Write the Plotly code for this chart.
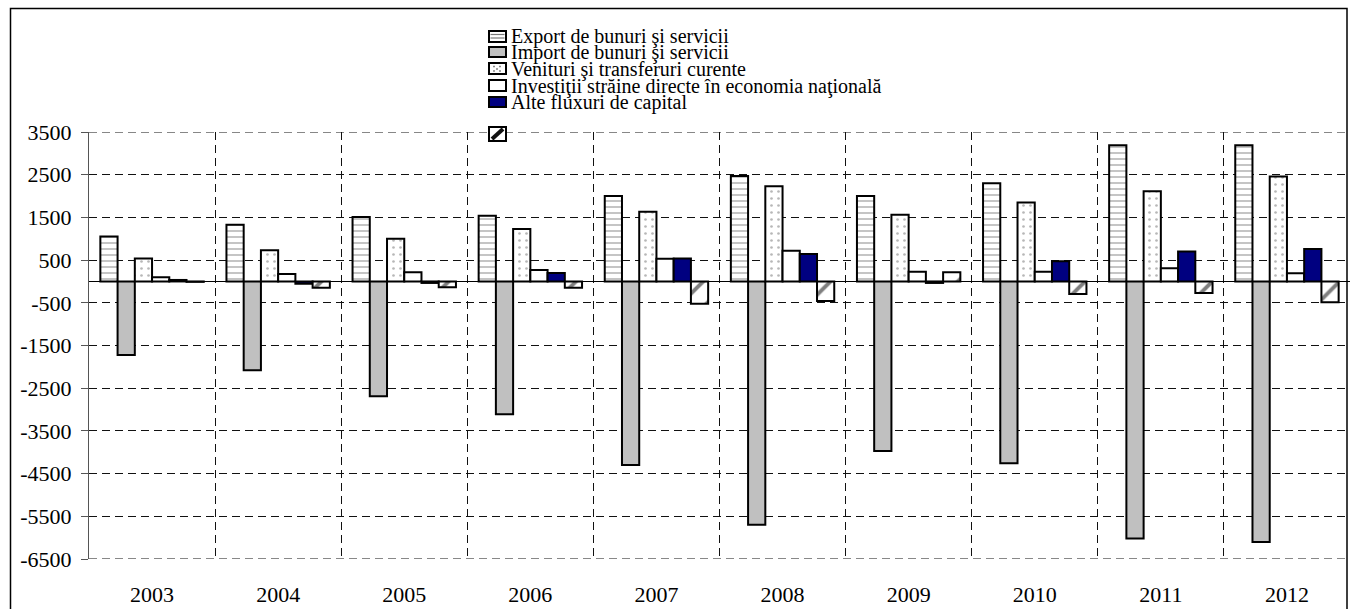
import plotly.graph_objects as go

# ---------------- data ----------------
years = ["2003", "2004", "2005", "2006", "2007", "2008", "2009", "2010", "2011", "2012"]
export_vals = [1050, 1330, 1510, 1540, 2000, 2470, 2000, 2300, 3190, 3190]
import_vals = [-1720, -2080, -2690, -3110, -4300, -5700, -3970, -4260, -6020, -6100]
venituri_vals = [535, 730, 1000, 1230, 1635, 2230, 1560, 1850, 2110, 2460]
investitii_vals = [100, 175, 215, 270, 530, 720, 230, 230, 310, 190]
alte_vals = [35, -55, -35, 200, 540, 645, -35, 475, 700, 760]
altele_vals = [-10, -150, -135, -150, -520, -460, 215, -295, -270, -490]

series_names = [
    "Export de bunuri şi servicii",
    "Import de bunuri şi servicii",
    "Venituri şi transferuri curente",
    "Investiţii străine directe în economia naţională",
    "Alte fluxuri de capital",
    "",
]

y_tickvals = [3500, 2500, 1500, 500, -500, -1500, -2500, -3500, -4500, -5500, -6500]
y_ticktext = ["3500", "2500", "1500", "500", "-500", "-1500", "-2500", "-3500", "-4500", "-5500", "-6500"]
y_min, y_max = -6500, 3500

FONT = "Liberation Serif, Times New Roman, serif"
OUT = dict(color="black", width=2)
GRID_DASH = "8px,5px"

# ---------------- layout geometry ----------------
W, H = 1350, 609
ML, MR, MT, MB = 89, 0, 132, 50
PW = W - ML - MR
PH = H - MT - MB


def px2x(px):
    return (px - ML) / PW


def py2y(py):
    return (H - MB - py) / PH


fig = go.Figure()

styles = [
    dict(color="white", line=OUT,
         pattern=dict(shape="-", fgcolor="#7f7f7f", bgcolor="white", size=6, solidity=0.3)),
    dict(color="#C0C0C0", line=OUT),
    dict(color="white", line=OUT,
         pattern=dict(shape=".", fgcolor="#6f6f6f", bgcolor="white", size=7, solidity=0.12)),
    dict(color="white", line=OUT),
    dict(color="#000080", line=OUT),
    dict(color="white", line=OUT,
         pattern=dict(shape="/", fgcolor="#000000", bgcolor="white", size=18, solidity=0.22)),
]
values = [export_vals, import_vals, venituri_vals, investitii_vals, alte_vals, altele_vals]

for name, vals, st in zip(series_names, values, styles):
    fig.add_trace(go.Bar(x=years, y=vals, name=name if name else "Altele",
                         marker=st, showlegend=False))

# ---------------- manual legend ----------------
shapes = []
annotations = []

# edge gridlines (plotly hides gridlines lying on the plot border)
for yv in (y_max, y_min):
    shapes.append(dict(type="line", xref="paper", yref="y", x0=0, x1=1, y0=yv, y1=yv,
                       line=dict(color="#111", width=1, dash=GRID_DASH), layer="below"))

rows = [(31, 42), (47, 57), (63, 74), (80, 91), (97, 107), (127, 141)]
sx0, sx1 = 489, 506
for i, (name, (t, b)) in enumerate(zip(series_names, rows)):
    fill = ["white", "#C0C0C0", "white", "white", "#000080", "white"][i]
    shapes.append(dict(type="rect", xref="paper", yref="paper",
                       x0=px2x(sx0), x1=px2x(sx1), y0=py2y(b), y1=py2y(t),
                       fillcolor=fill, line=dict(color="black", width=2), layer="above"))
    if i == 0:
        for yy in [t + 3.5, t + 7]:
            shapes.append(dict(type="line", xref="paper", yref="paper",
                               x0=px2x(sx0 + 1.5), x1=px2x(sx1 - 1.5), y0=py2y(yy), y1=py2y(yy),
                               line=dict(color="#777", width=1.2), layer="above"))
    if i == 2:
        for (dx, dy) in [(5, 3.5), (11, 3.5), (8, 6), (5, 8), (11, 8)]:
            shapes.append(dict(type="rect", xref="paper", yref="paper",
                               x0=px2x(sx0 + dx - 0.7), x1=px2x(sx0 + dx + 0.7),
                               y0=py2y(t + dy + 0.7), y1=py2y(t + dy - 0.7),
                               fillcolor="#555", line=dict(width=0), layer="above"))
    if i == 5:
        shapes.append(dict(type="line", xref="paper", yref="paper",
                           x0=px2x(sx0 + 3), x1=px2x(sx1 - 3), y0=py2y(b - 2), y1=py2y(t + 2),
                           line=dict(color="#111", width=4), layer="above"))
    if name:
        annotations.append(dict(xref="paper", yref="paper", x=px2x(sx1 + 3), y=py2y((t + b) / 2 + 0.5),
                                text=name, showarrow=False, xanchor="left", yanchor="middle",
                                font=dict(family=FONT, size=20, color="black")))

# outer frame
shapes.append(dict(type="rect", xref="paper", yref="paper",
                   x0=px2x(10.5), x1=px2x(1347), y0=py2y(640), y1=py2y(8.5),
                   line=dict(color="black", width=1.5), fillcolor="rgba(0,0,0,0)", layer="above"))

fig.update_layout(
    width=W, height=H,
    margin=dict(l=ML, r=MR, t=MT, b=MB),
    paper_bgcolor="white", plot_bgcolor="white",
    barmode="group", bargap=0.18, bargroupgap=0,
    font=dict(family=FONT, size=22, color="black"),
    shapes=shapes, annotations=annotations,
    xaxis=dict(type="category", tickson="boundaries", showgrid=True,
               gridcolor="#111", gridwidth=1, griddash=GRID_DASH,
               ticks="", showline=False, zeroline=False,
               ticklabelstandoff=20, tickfont=dict(family=FONT, size=22, color="black")),
    yaxis=dict(range=[y_min, y_max], tickvals=y_tickvals, ticktext=y_ticktext,
               showgrid=True, gridcolor="#111", gridwidth=1, griddash=GRID_DASH,
               zeroline=True, zerolinecolor="black", zerolinewidth=1,
               showline=True, linecolor="#555", linewidth=1,
               ticks="outside", ticklen=7, tickcolor="#555",
               ticklabelstandoff=5, tickfont=dict(family=FONT, size=22, color="black")),
)

fig.write_html("out.html", config={"displayModeBar": False},
               post_script="document.body.style.margin='0';document.body.style.overflow='hidden';")
